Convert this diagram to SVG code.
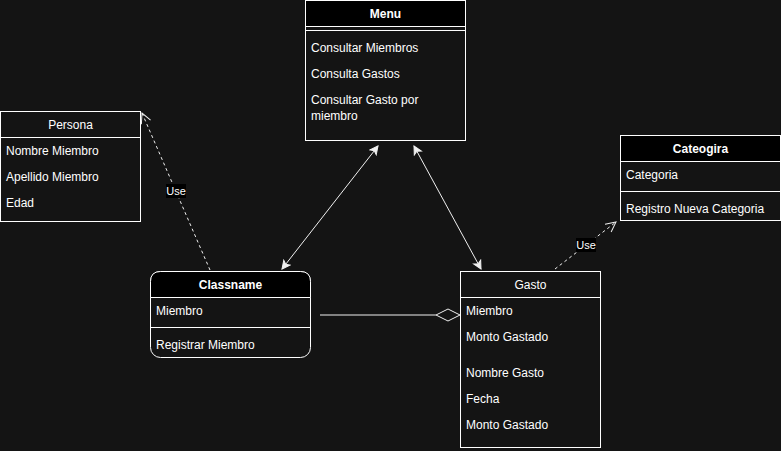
<svg xmlns="http://www.w3.org/2000/svg" width="781" height="451" viewBox="0 0 781 451">
<defs>
<style>
text{font-family:"Liberation Sans",Arial,sans-serif;font-size:12px;fill:#ffffff}
.b{font-weight:bold}
.c{text-anchor:middle}
.box{fill:#141414;stroke:#ffffff;stroke-width:1}
.hdr{fill:#000000;stroke:#ffffff;stroke-width:1}
.ln{stroke:#ffffff;stroke-width:1;fill:none}
.edge{stroke:#f0f0f0;stroke-width:1;fill:none}
.dash{stroke:#f0f0f0;stroke-width:1;fill:none;stroke-dasharray:3 3}
.lbl{fill:#000000}
.lt{font-size:11px}
</style>
<marker id="fa" markerWidth="10" markerHeight="10" refX="9" refY="5" orient="auto-start-reverse" markerUnits="userSpaceOnUse">
<path d="M1,1 L9,5 L1,9 L3,5 Z" fill="#f0f0f0" stroke="#f0f0f0"/>
</marker>
<marker id="oa" markerWidth="12" markerHeight="12" refX="11" refY="6" orient="auto" markerUnits="userSpaceOnUse">
<path d="M1,1 L11,6 L1,11" fill="none" stroke="#f0f0f0"/>
</marker>
</defs>
<rect width="781" height="451" fill="#141414"/>

<g id="connectors">
<line class="edge" x1="378" y1="146" x2="282" y2="269" marker-start="url(#fa)" marker-end="url(#fa)"/>
<line class="edge" x1="414" y1="146" x2="481" y2="269" marker-start="url(#fa)" marker-end="url(#fa)"/>
<line class="dash" x1="210" y1="270" x2="142" y2="113" marker-end="url(#oa)"/>
<rect class="lbl" x="166" y="184" width="20" height="14"/>
<text class="lt" x="176" y="195" text-anchor="middle">Use</text>
<line class="dash" x1="555" y1="269" x2="616" y2="222" marker-end="url(#oa)"/>
<rect class="lbl" x="576" y="238" width="20" height="14"/>
<text class="lt" x="586" y="249" text-anchor="middle">Use</text>
<line class="edge" x1="320" y1="315" x2="436" y2="315"/>
<path class="edge" d="M436,315 L448,309 L460,315 L448,321 Z"/>
</g>

<g id="menu">
<rect class="box" x="305.5" y="0.5" width="160" height="140"/>
<rect class="hdr" x="305.5" y="0.5" width="160" height="26"/>
<line class="ln" x1="305.5" y1="30.5" x2="465.5" y2="30.5"/>
<text class="b c" x="385.5" y="18">Menu</text>
<text x="311" y="52">Consultar Miembros</text>
<text x="311" y="78">Consulta Gastos</text>
<text x="311" y="104">Consultar Gasto por</text>
<text x="311" y="120">miembro</text>
</g>

<g id="persona">
<rect class="box" x="0.5" y="111.5" width="140" height="110"/>
<line class="ln" x1="0.5" y1="137.5" x2="140.5" y2="137.5"/>
<text class="c" x="70.5" y="129">Persona</text>
<text x="6" y="155">Nombre Miembro</text>
<text x="6" y="181">Apellido Miembro</text>
<text x="6" y="207">Edad</text>
</g>

<g id="classname">
<rect class="box" x="150.5" y="271.5" width="160" height="86" rx="10" ry="10"/>
<path d="M150.5,297.5 L150.5,281.5 Q150.5,271.5 160.5,271.5 L300.5,271.5 Q310.5,271.5 310.5,281.5 L310.5,297.5 Z" fill="#000000" stroke="#ffffff"/>
<line class="ln" x1="150.5" y1="327.5" x2="310.5" y2="327.5"/>
<text class="b c" x="230.5" y="289">Classname</text>
<text x="156" y="315">Miembro</text>
<text x="156" y="349">Registrar Miembro</text>
</g>

<g id="gasto">
<rect class="box" x="460.5" y="271.5" width="140" height="176"/>
<line class="ln" x1="460.5" y1="297.5" x2="600.5" y2="297.5"/>
<text class="c" x="530.5" y="289">Gasto</text>
<text x="466" y="315">Miembro</text>
<text x="466" y="341">Monto Gastado</text>
<text x="466" y="377">Nombre Gasto</text>
<text x="466" y="403">Fecha</text>
<text x="466" y="429">Monto Gastado</text>
</g>

<g id="cateogira">
<rect class="box" x="620.5" y="135.5" width="160" height="85"/>
<rect class="hdr" x="620.5" y="135.5" width="160" height="26"/>
<line class="ln" x1="620.5" y1="191.5" x2="780.5" y2="191.5"/>
<text class="b c" x="700.5" y="153">Cateogira</text>
<text x="626" y="179">Categoria</text>
<text x="626" y="213">Registro Nueva Categoria</text>
</g>
</svg>
